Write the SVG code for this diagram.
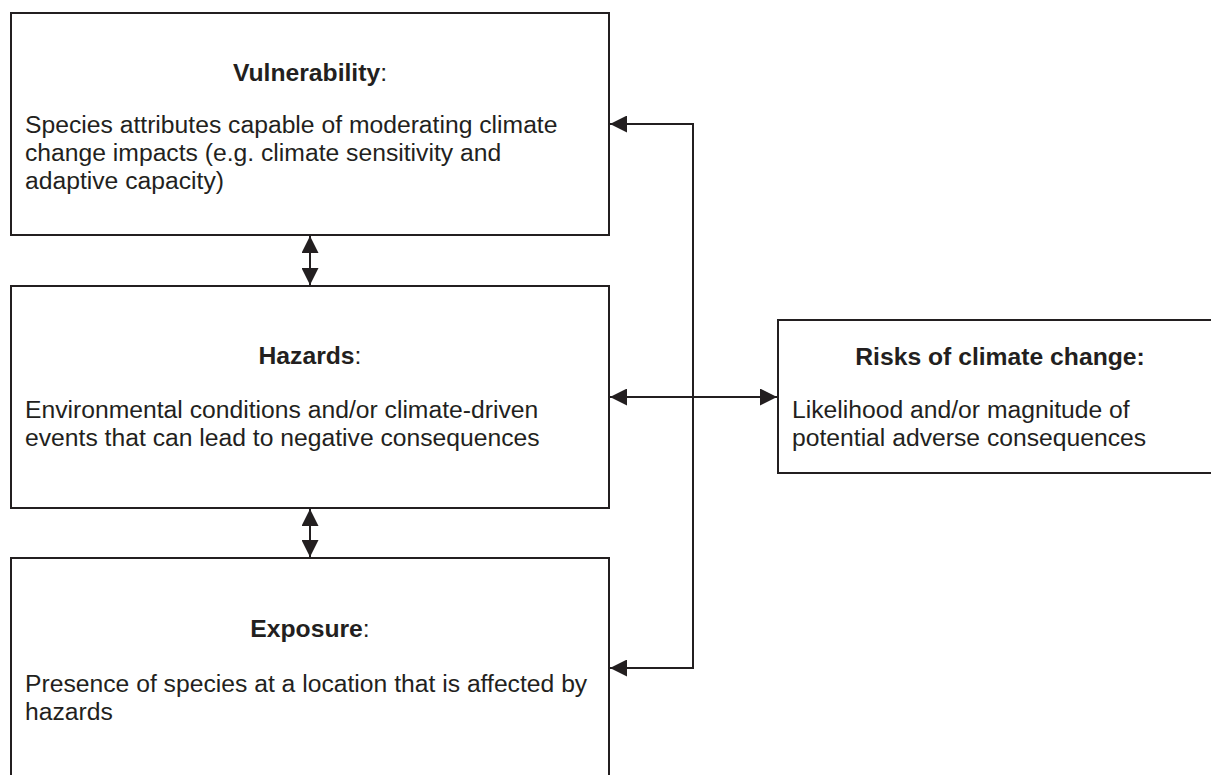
<svg xmlns="http://www.w3.org/2000/svg" width="1211" height="775" viewBox="0 0 1211 775">
<style>
.box{fill:#fff;stroke:#231f20;stroke-width:2}
.t{font-family:"Liberation Sans",Arial,sans-serif;font-size:24.7px;fill:#231f20}
.h{font-weight:bold;text-anchor:middle}
.c{fill:none;stroke:#231f20;stroke-width:2}
</style>
<defs>
<marker id="ah2" viewBox="0 0 10 10" refX="10" refY="5" markerWidth="17" markerHeight="17" markerUnits="userSpaceOnUse" orient="auto-start-reverse">
<path d="M0,0 L10,5 L0,10 Z" fill="#231f20"/>
</marker>
</defs>
<rect width="1211" height="775" fill="#fff"/>
<g id="vulnerability">
<rect class="box" x="11" y="13" width="598" height="222"/>
<text class="t h" x="310" y="81"><tspan>Vulnerability</tspan><tspan font-weight="normal">:</tspan></text>
<text class="t" x="25" y="133">Species attributes capable of moderating climate</text>
<text class="t" x="25" y="161">change impacts (e.g. climate sensitivity and</text>
<text class="t" x="25" y="189">adaptive capacity)</text>
</g>
<g id="hazards">
<rect class="box" x="11" y="286" width="598" height="222"/>
<text class="t h" x="310" y="364"><tspan>Hazards</tspan><tspan font-weight="normal">:</tspan></text>
<text class="t" x="25" y="418">Environmental conditions and/or climate-driven</text>
<text class="t" x="25" y="446">events that can lead to negative consequences</text>
</g>
<g id="exposure">
<rect class="box" x="11" y="558" width="598" height="240"/>
<text class="t h" x="310" y="637"><tspan>Exposure</tspan><tspan font-weight="normal">:</tspan></text>
<text class="t" x="25" y="692">Presence of species at a location that is affected by</text>
<text class="t" x="25" y="720">hazards</text>
</g>
<g id="risks">
<rect class="box" x="778" y="320" width="450" height="153"/>
<text class="t h" x="1000" y="365">Risks of climate change:</text>
<text class="t" x="792" y="418">Likelihood and/or magnitude of</text>
<text class="t" x="792" y="446">potential adverse consequences</text>
</g>
<g id="connectors">
<line class="c" x1="310" y1="236" x2="310" y2="285" marker-start="url(#ah2)" marker-end="url(#ah2)"/>
<line class="c" x1="310" y1="509" x2="310" y2="557" marker-start="url(#ah2)" marker-end="url(#ah2)"/>
<polyline class="c" points="693,397 693,124 610,124" marker-end="url(#ah2)"/>
<polyline class="c" points="693,397 693,668 610,668" marker-end="url(#ah2)"/>
<line class="c" x1="610" y1="397" x2="777" y2="397" marker-start="url(#ah2)" marker-end="url(#ah2)"/>
</g>
</svg>
